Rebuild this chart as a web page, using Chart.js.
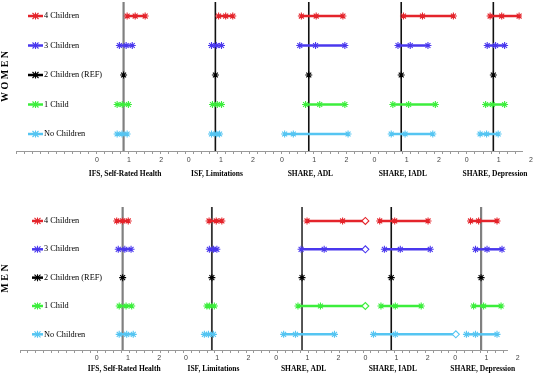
<!DOCTYPE html>
<html>
<head>
<meta charset="utf-8">
<script src="https://cdn.jsdelivr.net/npm/chart.js@4.4.1/dist/chart.umd.min.js"></script>
<style>
body { margin: 0; background: #fff; }
canvas { display: block; }
</style>
</head>
<body>
<canvas id="women" width="544" height="190"></canvas>
<canvas id="men" width="544" height="185"></canvas>
<script>
// Forest plot: number of children vs health outcomes, women and men

const rows = ["4 Children", "3 Children", "2 Children (REF)", "1 Child", "No Children"];
const panels = ["IFS, Self-Rated Health", "ISF, Limitations", "SHARE, ADL", "SHARE, IADL", "SHARE, Depression"];
const tickLabels = [0, 1, 2];
const refRow = 2;

// [lower, estimate, upper] per row, the REF row only has the estimate
const womenIFS  = [[0.94, 1.19, 1.50], [0.70, 0.91, 1.10], [0.83], [0.63, 0.79, 0.98], [0.63, 0.78, 0.94]];
const womenISF  = [[0.93, 1.15, 1.37], [0.71, 0.86, 1.02], [0.83], [0.74, 0.89, 1.02], [0.71, 0.86, 0.96]];
const womenADL  = [[0.60, 1.06, 1.89], [0.55, 1.04, 1.95], [0.83], [0.73, 1.17, 1.95], [0.08, 0.35, 2.05]];
const womenIADL = [[0.90, 1.49, 2.45], [0.73, 1.11, 1.66], [0.83], [0.57, 1.06, 1.89], [0.52, 0.95, 1.81]];
const womenDep  = [[0.73, 1.09, 1.63], [0.64, 0.90, 1.18], [0.83], [0.59, 0.80, 1.18], [0.42, 0.62, 0.98]];

const menIFS  = [[0.64, 0.83, 1.01], [0.69, 0.90, 1.10], [0.83], [0.72, 0.94, 1.12], [0.72, 0.96, 1.17]];
const menISF  = [[0.74, 0.97, 1.15], [0.75, 0.88, 0.99], [0.83], [0.67, 0.75, 0.91], [0.59, 0.72, 0.88]];
const menADL  = [[0.99, 2.13, 2.86], [0.80, 1.54, 2.86], [0.83], [0.70, 1.42, 2.86], [0.24, 0.62, 1.87]];
const menIADL = [[0.46, 0.94, 2.01], [0.61, 1.12, 2.08], [0.83], [0.50, 0.96, 1.79], [0.26, 0.96, 2.90]];
const menDep  = [[0.49, 0.75, 1.34], [0.65, 1.02, 1.50], [0.83], [0.59, 0.91, 1.47], [0.36, 0.65, 1.34]];

// upper limit cut off at the edge of the panel
const menADLCut  = [true, true, false, true, false];
const menIADLCut = [false, false, false, false, true];

const rowColors = ["#e4242b", "#4a38ee", "#000000", "#3cee3c", "#55c5f2"];

const womenLayout = {
    offsets: [2.51, 5.36, 8.26, 11.13, 13.99], xMax: 15.71,
    yMin: -0.475, yMax: 4.576, padTop: 2, padRight: 22, yWidth: 16,
    legendPad: 28, keyFrom: 12, keyTo: 27, tickPad: 2, titlePad: 5, x2Height: 25,
    refColors: ["#808080", "#111", "#111", "#111", "#111"], refWidths: [2.2, 1.6, 1.6, 1.6, 1.6]
};
const menLayout = {
    offsets: [2.46, 5.32, 8.21, 11.07, 13.95], xMax: 15.61,
    yMin: -0.493, yMax: 4.553, padTop: 17, padRight: 37, yWidth: 20,
    legendPad: 24, keyFrom: 12, keyTo: 23, tickPad: 1.3, titlePad: 1, x2Height: 11,
    refColors: ["#808080", "#333", "#444", "#111", "#808080"], refWidths: [2.2, 1.8, 1.8, 1.6, 2.2]
};

function xTicks(L) {
    const t = [];
    for (let i = 0; i * 0.25 <= L.xMax + 1e-9; i++) t.push({value: i * 0.25});
    L.offsets.forEach(off => tickLabels.forEach(n => t.push({value: off + n, lab: String(n)})));
    return t.sort((a, b) => a.value - b.value);
}

function buildDatasets(panelData, cuts, L) {
    const sets = [];
    panelData.forEach((rowData, p) => {
        const off = L.offsets[p];
        const ref = rowData[refRow][0];
        sets.push({
            data: [{x: off + ref, y: L.yMin}, {x: off + ref, y: L.yMax}],
            showLine: true, borderColor: L.refColors[p], borderWidth: L.refWidths[p],
            pointRadius: 0, order: 10
        });
        rowData.forEach((vals, r) => {
            const cut = cuts[p] ? cuts[p][r] : false;
            sets.push({
                data: vals.map(v => ({x: off + v, y: r})),
                showLine: true,
                borderColor: rowColors[r],
                backgroundColor: rowColors[r],
                borderWidth: 2.5,
                pointStyle: vals.map((v, i) => cut && i === 2 ? "rectRot" : "star"),
                pointRadius: 3.5,
                pointBorderWidth: 1.1,
                pointBorderColor: rowColors[r],
                pointBackgroundColor: vals.map((v, i) => cut && i === 2 ? "#fff" : rowColors[r]),
                order: 1
            });
        });
    });
    return sets;
}

// little line + marker in front of each row name
const rowKeys = {
    id: "rowKeys",
    afterDraw(chart, args, opts) {
        const ctx = chart.ctx;
        const y = chart.scales.y;
        const left = chart.chartArea.left;
        rows.forEach((name, i) => {
            const py = y.getPixelForValue(i);
            const x0 = left + opts.from, x1 = left + opts.to, xm = (x0 + x1) / 2;
            ctx.save();
            ctx.strokeStyle = rowColors[i];
            ctx.lineWidth = 2.5;
            ctx.beginPath();
            ctx.moveTo(x0, py);
            ctx.lineTo(x1, py);
            ctx.stroke();
            ctx.lineWidth = 1.1;
            ctx.beginPath();
            ctx.moveTo(xm - 3, py - 3); ctx.lineTo(xm + 3, py + 3);
            ctx.moveTo(xm - 3, py + 3); ctx.lineTo(xm + 3, py - 3);
            ctx.moveTo(xm, py - 3.5); ctx.lineTo(xm, py + 3.5);
            ctx.stroke();
            ctx.restore();
        });
    }
};

function makeChart(id, panelData, cuts, L, groupName) {
    return new Chart(document.getElementById(id), {
        type: "scatter",
        data: {datasets: buildDatasets(panelData, cuts, L)},
        plugins: [rowKeys],
        options: {
            responsive: false,
            animation: false,
            events: [],
            layout: {autoPadding: false, padding: {top: L.padTop, right: L.padRight, left: 0, bottom: 0}},
            plugins: {
                legend: {display: false},
                tooltip: {enabled: false},
                rowKeys: {from: L.keyFrom, to: L.keyTo}
            },
            scales: {
                x: {
                    type: "linear", min: 0, max: L.xMax, weight: 0,
                    afterBuildTicks: s => { s.ticks = xTicks(L); },
                    afterFit: s => { s.height = 14; },
                    grid: {
                        drawOnChartArea: false, drawTicks: true, tickLength: 3, tickWidth: 1,
                        tickColor: c => (c.tick && c.tick.lab) ? "rgba(0,0,0,0)" : "#999"
                    },
                    border: {color: "#999", width: 1},
                    ticks: {
                        autoSkip: false, maxRotation: 0, padding: L.tickPad, color: "#444",
                        font: {family: "Liberation Sans", size: 7},
                        callback: (v, i, t) => t[i].lab || ""
                    }
                },
                x2: {
                    type: "linear", position: "bottom", min: 0, max: L.xMax, weight: 1,
                    afterBuildTicks: s => { s.ticks = panels.map((p, i) => ({value: L.offsets[i] + 0.88})); },
                    afterFit: s => { s.height = L.x2Height; },
                    grid: {display: false, drawTicks: false},
                    border: {display: false},
                    ticks: {
                        autoSkip: false, maxRotation: 0, padding: L.titlePad, color: "#000",
                        font: {family: "Liberation Serif", size: 7.5, weight: "bold"},
                        callback: (v, i) => panels[i]
                    }
                },
                y: {
                    type: "linear", reverse: true, min: L.yMin, max: L.yMax,
                    afterBuildTicks: s => { s.ticks = rows.map((r, i) => ({value: i})); },
                    afterFit: s => { s.width = L.yWidth; s.paddingTop = 0; s.paddingBottom = 0; },
                    grid: {display: false, drawTicks: false},
                    border: {display: false},
                    ticks: {
                        mirror: true, padding: L.legendPad, color: "#000",
                        font: {family: "Liberation Serif", size: 8.3},
                        callback: v => rows[v]
                    },
                    title: {
                        display: true, text: groupName, color: "#000",
                        font: {family: "Liberation Serif", size: 10, weight: "bold", lineHeight: 1},
                        padding: {top: 0, bottom: 0}
                    }
                }
            }
        }
    });
}

makeChart("women", [womenIFS, womenISF, womenADL, womenIADL, womenDep], [null, null, null, null, null], womenLayout, "W O M E N");
makeChart("men", [menIFS, menISF, menADL, menIADL, menDep], [null, null, menADLCut, menIADLCut, null], menLayout, "M E N");
</script>
</body>
</html>
